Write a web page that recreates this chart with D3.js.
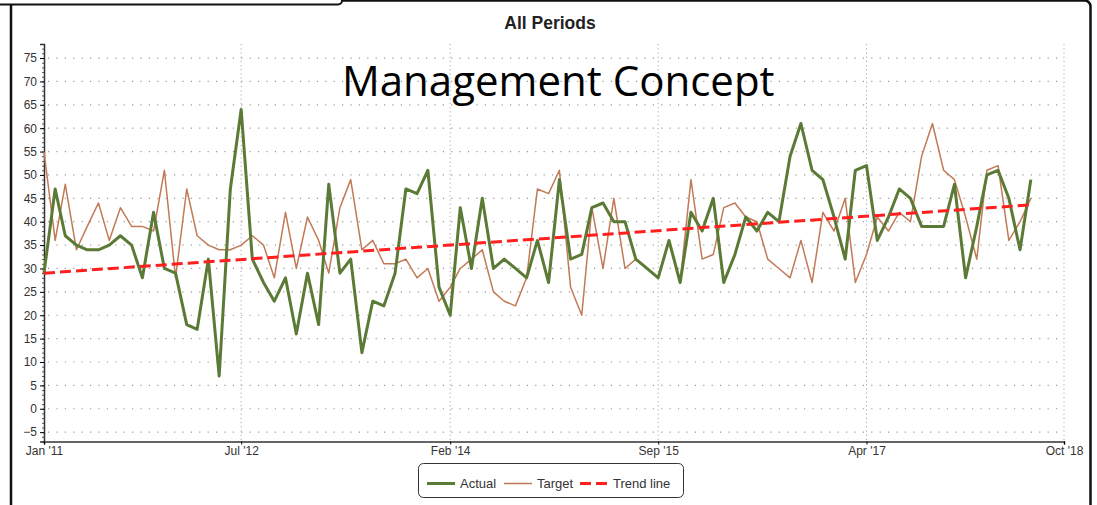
<!DOCTYPE html>
<html>
<head>
<meta charset="utf-8">
<script src="https://cdn.jsdelivr.net/npm/d3@7"></script>
<style>
    body { margin: 0; background: #fff; }
    svg { display: block; }
    .tick text { font-family: 'Liberation Sans', Arial, sans-serif; font-size: 12px; fill: #333; }
</style>
</head>
<body>
<svg id="chart" width="1097" height="505"></svg>
<script>
const startMonth = new Date(2011, 0, 1);
const endMonth = new Date(2018, 6, 1);
const months = d3.timeMonth.range(startMonth, d3.timeMonth.offset(endMonth, 1));

const actual = [29, 47, 37, 35, 34, 34, 35, 37, 35, 28, 42, 30, 29, 18, 17, 32, 7, 47, 64, 32,
    27, 23, 28, 16, 29, 18, 48, 29, 32, 12, 23, 22, 29, 47, 46, 51, 26, 20, 43, 30,
    45, 30, 32, 30, 28, 36, 27, 49, 32, 33, 43, 44, 40, 40, 32, 30, 28, 36, 27, 42,
    38, 45, 27, 33, 41, 38, 42, 40, 54, 61, 51, 49, 41, 32, 51, 52, 36, 41, 47, 45,
    39, 39, 39, 48, 28, 39, 50, 51, 45, 34, 49];

const target = [55, 36, 48, 34, 39, 44, 36, 43, 39, 39, 38, 51, 28, 47, 37, 35, 34, 34, 35, 37,
    35, 28, 42, 30, 41, 36, 29, 43, 49, 34, 36, 31, 31, 32, 28, 30, 23, 26, 30, 32,
    34, 25, 23, 22, 28, 47, 46, 51, 26, 20, 43, 30, 45, 30, 32, 30, 28, 36, 27, 49,
    32, 33, 43, 44, 41, 40, 32, 30, 28, 36, 27, 42, 38, 45, 27, 33, 41, 38, 42, 40,
    54, 61, 51, 49, 41, 32, 51, 52, 36, 40, 45];

const trend = [29, 43.6];

const xTicks = [new Date(2011, 0, 1), new Date(2012, 6, 1), new Date(2014, 1, 1),
    new Date(2015, 8, 1), new Date(2017, 3, 1), new Date(2018, 9, 1)];
const yTicks = [-5, 0, 5, 10, 15, 20, 25, 30, 35, 40, 45, 50, 55, 60, 65, 70, 75];

const series = [
    { name: 'Actual', values: actual, color: '#5b7a36', width: 3, dash: null },
    { name: 'Target', values: target, color: '#c27a56', width: 1.5, dash: null },
    { name: 'Trend line', values: trend, color: '#ff1f1f', width: 3, dash: '11,5' }
];

const svg = d3.select('#chart');
const plotLeft = 44, plotRight = 1064, plotTop = 44, plotBottom = 441.5;

const x = d3.scaleTime().domain([startMonth, xTicks[xTicks.length - 1]]).range([plotLeft, plotRight]);
const y = d3.scaleLinear().domain([-7, 78]).range([plotBottom, plotTop]);

// frame
svg.append('rect').attr('x', 11).attr('y', 0.5).attr('width', 1079.5).attr('height', 600)
    .attr('rx', 6).attr('fill', '#fff').attr('stroke', '#111').attr('stroke-width', 2.5);
svg.append('rect').attr('x', -10).attr('y', -20).attr('width', 352).attr('height', 24.5)
    .attr('rx', 4).attr('fill', '#fff').attr('stroke', '#111').attr('stroke-width', 2);

svg.append('text').attr('x', 550).attr('y', 29).attr('text-anchor', 'middle')
    .style('font-family', "'Liberation Sans', Arial, sans-serif").style('font-weight', 'bold')
    .style('font-size', '17.5px').attr('fill', '#222').text('All Periods');

// grid
svg.append('g').selectAll('line').data(yTicks).enter().append('line')
    .attr('x1', plotLeft + 4).attr('x2', plotRight - 4).attr('y1', d => y(d)).attr('y2', d => y(d))
    .attr('stroke', '#999').attr('stroke-width', 1.2).attr('stroke-dasharray', '1.2,7.2');

svg.append('g').selectAll('line').data(xTicks.slice(1)).enter().append('line')
    .attr('x1', d => x(d)).attr('x2', d => x(d)).attr('y1', plotTop).attr('y2', plotBottom)
    .attr('stroke', '#aaa').attr('stroke-width', 1).attr('stroke-dasharray', '1.2,3');

// axes
svg.append('g').attr('transform', `translate(${plotLeft},0)`)
    .call(d3.axisLeft(y).ticks(85).tickSize(2).tickFormat(''))
    .call(g => g.selectAll('line').attr('stroke', '#555'))
    .call(g => g.select('.domain').remove());
svg.append('g').attr('transform', `translate(${plotLeft},0)`)
    .call(d3.axisLeft(y).tickValues(yTicks).tickSize(4).tickPadding(3))
    .call(g => g.select('.domain').attr('stroke', '#333').attr('stroke-width', 1.5));

svg.append('g').attr('transform', `translate(0,${plotBottom})`)
    .call(d3.axisBottom(x).tickValues(xTicks).tickSize(3).tickPadding(2).tickFormat(d3.timeFormat("%b '%y")))
    .call(g => g.select('.domain').attr('stroke', '#333').attr('stroke-width', 1.5));

// lines
const line = d3.line().x((d, i) => x(months[i])).y(d => y(d));
const trendLine = d3.line().x((d, i) => x(i === 0 ? months[0] : months[months.length - 1])).y(d => y(d));

svg.append('path').datum(target).attr('d', line).attr('fill', 'none')
    .attr('stroke', series[1].color).attr('stroke-width', series[1].width).attr('stroke-linejoin', 'round');
svg.append('path').datum(actual).attr('d', line).attr('fill', 'none')
    .attr('stroke', series[0].color).attr('stroke-width', series[0].width).attr('stroke-linejoin', 'round');
svg.append('path').datum(trend).attr('d', trendLine).attr('fill', 'none')
    .attr('stroke', series[2].color).attr('stroke-width', series[2].width).attr('stroke-dasharray', series[2].dash);

// overlay caption
svg.append('text').attr('x', 342).attr('y', 96)
    .style('font-family', "'Open Sans', 'Noto Sans', sans-serif").style('font-size', '42px')
    .attr('fill', '#000').text('Management Concept');

// legend
const legend = svg.append('g');
legend.append('rect').attr('x', 418.5).attr('y', 463.5).attr('width', 265).attr('height', 34)
    .attr('rx', 5).attr('fill', '#fff').attr('stroke', '#333').attr('stroke-width', 1);

const legendX = [427, 504, 580];
const items = legend.selectAll('g.item').data(series).enter().append('g').attr('class', 'item')
    .attr('transform', (d, i) => `translate(${legendX[i]},483.5)`);
items.append('line').attr('x1', 0).attr('x2', 28).attr('y1', 0).attr('y2', 0)
    .attr('stroke', d => d.color).attr('stroke-width', d => d.width).attr('stroke-dasharray', d => d.dash);
items.append('text').attr('x', 33).attr('y', 4.5)
    .style('font-family', "'Liberation Sans', Arial, sans-serif").style('font-size', '13px')
    .attr('fill', '#333').text(d => d.name);
</script>
</body>
</html>
